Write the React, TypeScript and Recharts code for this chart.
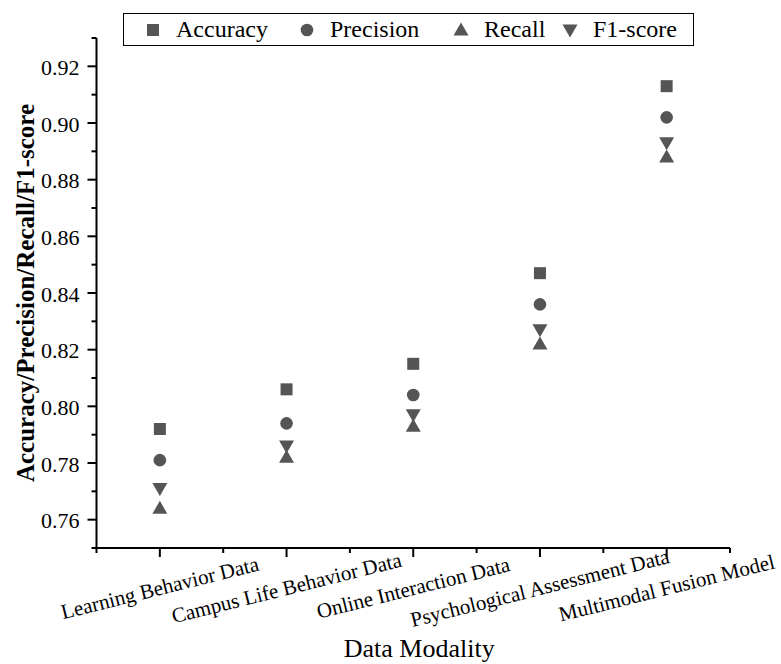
import { ScatterChart, Scatter, XAxis, YAxis, Legend } from "recharts";

const categories = [
  "Learning Behavior Data",
  "Campus Life Behavior Data",
  "Online Interaction Data",
  "Psychological Assessment Data",
  "Multimodal Fusion Model",
];
const accuracy = [0.792, 0.806, 0.815, 0.847, 0.913];
const precision = [0.781, 0.794, 0.804, 0.836, 0.902];
const recall = [0.764, 0.782, 0.793, 0.822, 0.888];
const f1 = [0.771, 0.786, 0.797, 0.827, 0.893];

const xTicks = [0.5, 1, 1.5, 2, 2.5, 3, 3.5, 4, 4.5, 5, 5.5];
const yTicks = [0.75, 0.76, 0.77, 0.78, 0.79, 0.8, 0.81, 0.82, 0.83, 0.84, 0.85, 0.86, 0.87, 0.88, 0.89, 0.9, 0.91, 0.92, 0.93];

const FONT = '"Liberation Serif", "Times New Roman", serif';
const MARK = "#555555";

const toPoints = (vals: number[]) => vals.map((v, i) => ({ x: i + 1, y: v, name: categories[i] }));

type ShapeProps = { cx?: number; cy?: number };

const SquareShape = ({ cx = 0, cy = 0 }: ShapeProps) => (
  <rect x={cx - 6} y={cy - 6} width={12} height={12} fill={MARK} />
);
const CircleShape = ({ cx = 0, cy = 0 }: ShapeProps) => <circle cx={cx} cy={cy} r={6.3} fill={MARK} />;
const UpShape = ({ cx = 0, cy = 0 }: ShapeProps) => (
  <path d={`M${cx},${cy - 7.5} L${cx + 7.5},${cy + 5.5} L${cx - 7.5},${cy + 5.5} Z`} fill={MARK} />
);
const DownShape = ({ cx = 0, cy = 0 }: ShapeProps) => (
  <path d={`M${cx - 7.5},${cy - 5.5} L${cx + 7.5},${cy - 5.5} L${cx},${cy + 7.5} Z`} fill={MARK} />
);

function XTick(props: any) {
  const { x, y, payload } = props;
  const v = payload.value as number;
  const major = Number.isInteger(v);
  return (
    <g>
      <line x1={x} y1={y} x2={x} y2={y + (major ? 9 : 5)} stroke="#000" strokeWidth={2} />
      {major ? (
        <text
          x={x}
          y={y + 40}
          transform={`rotate(-14 ${x} ${y + 40})`}
          textAnchor="middle"
          dominantBaseline="central"
          fontFamily={FONT}
          fontSize={21}
          fill="#000"
        >
          {categories[v - 1]}
        </text>
      ) : null}
    </g>
  );
}

function YTick(props: any) {
  const { x, y, payload } = props;
  const v = payload.value as number;
  const idx = Math.round((v - 0.75) * 100);
  const major = idx % 2 === 1;
  return (
    <g>
      <line x1={x} y1={y} x2={x - (major ? 9 : 5)} y2={y} stroke="#000" strokeWidth={2} />
      {major ? (
        <text
          x={x - 17}
          y={y + 1}
          textAnchor="end"
          dominantBaseline="central"
          fontFamily={FONT}
          fontSize={22}
          fill="#000"
        >
          {v.toFixed(2)}
        </text>
      ) : null}
    </g>
  );
}

const legendItems = [
  { label: "Accuracy", Shape: SquareShape, w: 154 },
  { label: "Precision", Shape: CircleShape, w: 154 },
  { label: "Recall", Shape: UpShape, w: 109 },
  { label: "F1-score", Shape: DownShape, w: 120 },
];

function LegendBox() {
  return (
    <div
      style={{
        boxSizing: "border-box",
        width: 571,
        height: 33,
        border: "1.5px solid #000",
        display: "flex",
        alignItems: "center",
        fontFamily: FONT,
        fontSize: 24,
        color: "#000",
        paddingLeft: 19,
      }}
    >
      {legendItems.map(({ label, Shape, w }) => (
        <div key={label} style={{ display: "flex", alignItems: "center", width: w }}>
          <svg width={20} height={20}>
            <Shape cx={10} cy={10} />
          </svg>
          <span style={{ marginLeft: 13 }}>{label}</span>
        </div>
      ))}
    </div>
  );
}

export default function App() {
  return (
    <div style={{ position: "absolute", left: 0, top: 0, width: 781, height: 664, background: "#fff" }}>
      <ScatterChart width={781} height={664} margin={{ top: 38, right: 51, bottom: 86, left: 16 }}>
        <XAxis
          type="number"
          dataKey="x"
          domain={[0.5, 5.5]}
          ticks={xTicks}
          interval={0}
          height={30}
          tickSize={0}
          tickMargin={0}
          tick={<XTick />}
          axisLine={{ stroke: "#000", strokeWidth: 2 }}
          label={(p: any) => {
            const vb = p.viewBox;
            return (
              <text
                x={vb.x + vb.width / 2 + 6}
                y={vb.y + 109}
                textAnchor="middle"
                fontFamily={FONT}
                fontSize={26}
                fill="#000"
              >
                Data Modality
              </text>
            );
          }}
        />
        <YAxis
          type="number"
          dataKey="y"
          domain={[0.75, 0.93]}
          ticks={yTicks}
          interval={0}
          width={80.5}
          tickSize={0}
          tickMargin={0}
          tick={<YTick />}
          axisLine={{ stroke: "#000", strokeWidth: 2 }}
          label={(p: any) => {
            const vb = p.viewBox;
            const cx = vb.x + 9;
            const cy = vb.y + vb.height / 2;
            return (
              <text
                x={cx}
                y={cy}
                transform={`rotate(-90 ${cx} ${cy})`}
                textAnchor="middle"
                dominantBaseline="central"
                fontFamily={FONT}
                fontSize={25}
                fontWeight="bold"
                fill="#000"
              >
                Accuracy/Precision/Recall/F1-score
              </text>
            );
          }}
        />
        <Legend
          layout="vertical"
          align="center"
          verticalAlign="middle"
          wrapperStyle={{ position: "absolute", top: 13, left: 123, width: 571 }}
          content={() => <LegendBox />}
        />
        <Scatter name="Accuracy" data={toPoints(accuracy)} shape={<SquareShape />} isAnimationActive={false} />
        <Scatter name="Precision" data={toPoints(precision)} shape={<CircleShape />} isAnimationActive={false} />
        <Scatter name="Recall" data={toPoints(recall)} shape={<UpShape />} isAnimationActive={false} />
        <Scatter name="F1-score" data={toPoints(f1)} shape={<DownShape />} isAnimationActive={false} />
      </ScatterChart>
    </div>
  );
}
